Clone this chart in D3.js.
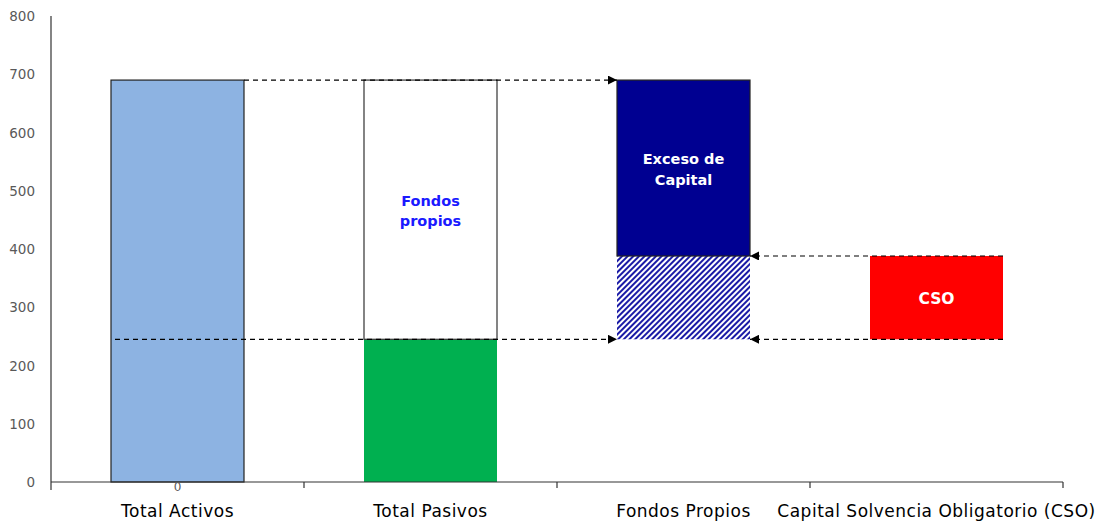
<!DOCTYPE html>
<html>
<head>
<meta charset="utf-8">
<script src="https://cdn.jsdelivr.net/npm/d3@7"></script>
<style>
  body { margin: 0; background: #fff; }
  text { font-family: "DejaVu Sans", Verdana, sans-serif; }
</style>
</head>
<body>
<svg id="chart" width="1098" height="525"></svg>
<script>
// categories and values
var categories = ["Total Activos", "Total Pasivos", "Fondos Propios", "Capital Solvencia Obligatorio (CSO)"];
var yTicks = [0, 100, 200, 300, 400, 500, 600, 700, 800];
var totalActivos = 690;
var totalPasivos = 245;
var capitalCSO = 143;

var fondosPropios = totalActivos - totalPasivos;
var excesoCapital = fondosPropios - capitalCSO;

// segments of each column: [category, from, to, kind]
var segments = [
  [categories[0], 0, totalActivos, "activos"],
  [categories[1], 0, totalPasivos, "pasivos"],
  [categories[1], totalPasivos, totalActivos, "fondos"],
  [categories[2], totalPasivos, totalPasivos + capitalCSO, "hatch"],
  [categories[2], totalPasivos + capitalCSO, totalActivos, "exceso"],
  [categories[3], totalPasivos, totalPasivos + capitalCSO, "cso"]
];

var svg = d3.select("#chart");

var x = d3.scaleBand().domain(categories).range([51, 1063]).padding(0);
var y = d3.scaleLinear().domain([0, 800]).range([482, 16]);
var barW = 133;
var off = (x.bandwidth() - barW) / 2;

var defs = svg.append("defs");
var pat = defs.append("pattern")
  .attr("id", "hatch")
  .attr("patternUnits", "userSpaceOnUse")
  .attr("width", 4).attr("height", 4)
  .attr("patternTransform", "rotate(45)");
pat.append("rect").attr("width", 4).attr("height", 4).attr("fill", "#fff");
pat.append("rect").attr("width", 2).attr("height", 4).attr("fill", "#1a1aa6");

["arrowR", "arrowL"].forEach(function(id) {
  defs.append("marker")
    .attr("id", id)
    .attr("viewBox", "0 0 10 10")
    .attr("refX", 10).attr("refY", 5)
    .attr("markerWidth", 9).attr("markerHeight", 9)
    .attr("markerUnits", "userSpaceOnUse")
    .attr("orient", "auto")
    .append("path").attr("d", "M0,0L10,5L0,10z").attr("fill", "#000");
});

var fills = {activos: "#8db3e2", pasivos: "#00b050", fondos: "#fff", hatch: "url(#hatch)", exceso: "#000091", cso: "#ff0000"};
var strokes = {activos: "#222", pasivos: "none", fondos: "#333", hatch: "none", exceso: "#222", cso: "none"};

svg.append("g").selectAll("rect")
  .data(segments)
  .enter().append("rect")
  .attr("x", function(d) { return x(d[0]) + off; })
  .attr("y", function(d) { return y(d[2]); })
  .attr("width", barW)
  .attr("height", function(d) { return y(d[1]) - y(d[2]); })
  .attr("fill", function(d) { return fills[d[3]]; })
  .attr("stroke", function(d) { return strokes[d[3]]; })
  .attr("stroke-width", 1.2);

// dashed connector lines
var left = function(c) { return x(c) + off; };
var right = function(c) { return x(c) + off + barW; };
var links = [
  [left(categories[0]) + barW, totalActivos, left(categories[2]), totalActivos, "arrowR"],
  [left(categories[0]) + 4, totalPasivos, left(categories[2]), totalPasivos, "arrowR"],
  [right(categories[3]), totalPasivos + capitalCSO, right(categories[2]), totalPasivos + capitalCSO, "arrowL"],
  [right(categories[3]), totalPasivos, right(categories[2]), totalPasivos, "arrowL"]
];
svg.append("g").selectAll("line")
  .data(links)
  .enter().append("line")
  .attr("x1", function(d) { return d[0]; })
  .attr("x2", function(d) { return d[2]; })
  .attr("y1", function(d) { return y(d[1]); })
  .attr("y2", function(d) { return y(d[3]); })
  .attr("stroke", "#000")
  .attr("stroke-width", 1.2)
  .attr("stroke-dasharray", "5,4")
  .attr("marker-end", function(d) { return "url(#" + d[4] + ")"; });

// labels inside bars
function midX(c) { return x(c) + x.bandwidth() / 2; }
var midFondos = y((totalPasivos + totalActivos) / 2);
svg.append("text").attr("x", midX(categories[1])).attr("y", midFondos - 4)
  .attr("text-anchor", "middle").attr("fill", "#1a1aff").attr("font-size", 14.5).attr("font-weight", "bold")
  .selectAll("tspan").data(["Fondos", "propios"]).enter().append("tspan")
  .attr("x", midX(categories[1])).attr("dy", function(d, i) { return i ? 20 : 0; }).text(function(d) { return d; });

var midExceso = y(totalPasivos + capitalCSO + excesoCapital / 2);
svg.append("text").attr("x", midX(categories[2])).attr("y", midExceso - 4)
  .attr("text-anchor", "middle").attr("fill", "#fff").attr("font-size", 14.5).attr("font-weight", "bold")
  .selectAll("tspan").data(["Exceso de", "Capital"]).enter().append("tspan")
  .attr("x", midX(categories[2])).attr("dy", function(d, i) { return i ? 21 : 0; }).text(function(d) { return d; });

svg.append("text").attr("x", midX(categories[3])).attr("y", y(totalPasivos + capitalCSO / 2) + 6)
  .attr("text-anchor", "middle").attr("fill", "#fff").attr("font-size", 15.5).attr("font-weight", "bold")
  .text("CSO");

// y axis
svg.append("line").attr("x1", 51).attr("x2", 51).attr("y1", 16).attr("y2", 490)
  .attr("stroke", "#333").attr("stroke-width", 1.2);
svg.append("g").selectAll("text")
  .data(yTicks)
  .enter().append("text")
  .attr("x", 35)
  .attr("y", function(d) { return y(d) + 5; })
  .attr("text-anchor", "end")
  .attr("fill", "#595959")
  .attr("font-size", 13.5)
  .text(function(d) { return d; });

// x axis
var xAxis = svg.append("g")
  .attr("transform", "translate(0,482)")
  .call(d3.axisBottom(x).tickSize(0).tickFormat(""));
xAxis.select(".domain").attr("d", "M51,0H1063").attr("stroke", "#333").attr("stroke-width", 1.2);
xAxis.selectAll(".tick").remove();
xAxis.selectAll("line.sep")
  .data(categories)
  .enter().append("line")
  .attr("class", "sep")
  .attr("x1", function(d) { return x(d) + x.bandwidth(); })
  .attr("x2", function(d) { return x(d) + x.bandwidth(); })
  .attr("y1", 0).attr("y2", 6)
  .attr("stroke", "#333").attr("stroke-width", 1.2);

xAxis.selectAll("text.cat")
  .data(categories)
  .enter().append("text")
  .attr("class", "cat")
  .attr("x", function(d) { return midX(d); })
  .attr("y", 35)
  .attr("text-anchor", "middle")
  .attr("fill", "#000")
  .attr("font-size", 17)
  .attr("letter-spacing", 0.5)
  .text(function(d) { return d; });

// small zero label under the first bar
svg.append("text").attr("x", midX(categories[0])).attr("y", 491)
  .attr("text-anchor", "middle").attr("fill", "#595959").attr("font-size", 12)
  .text("0");
</script>
</body>
</html>
